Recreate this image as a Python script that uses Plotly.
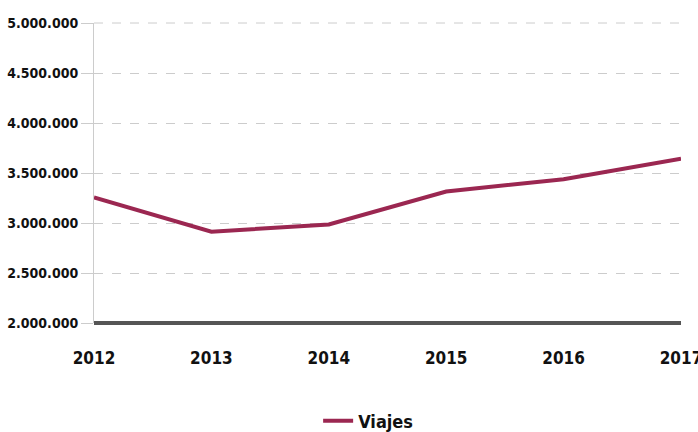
import plotly.graph_objects as go

years = [2012, 2013, 2014, 2015, 2016, 2017]
viajes = [3255000, 2913000, 2985000, 3315000, 3438000, 3643000]
y_ticks = [2000000, 2500000, 3000000, 3500000, 4000000, 4500000, 5000000]

FONT = "DejaVu Sans Condensed"

fig = go.Figure()
fig.add_trace(go.Scatter(
    x=years, y=viajes, mode="lines", name="Viajes",
    line=dict(color="#9B2751", width=4),
))

fig.update_layout(
    width=698, height=432,
    margin=dict(l=94, r=17, t=23, b=109, autoexpand=False),
    paper_bgcolor="white", plot_bgcolor="white",
    separators=",.",
    font=dict(family=FONT, color="#111111", weight="bold"),
    showlegend=True,
    legend=dict(orientation="h", x=0.467, xanchor="center", y=-0.265, yanchor="top",
                font=dict(size=18, family=FONT, weight="bold")),
    xaxis=dict(
        range=[2012, 2017], tickvals=years, ticktext=[str(y) for y in years],
        showgrid=False, zeroline=False, automargin=False,
        ticklabeloverflow="allow",
        showline=False,
        ticks="outside", ticklen=20, tickcolor="rgba(0,0,0,0)",
        tickfont=dict(size=17, family=FONT, weight="bold"),
    ),
    yaxis=dict(
        range=[2000000, 5000000], tickvals=y_ticks, tickformat=",d",
        showgrid=True, gridcolor="#cccccc", griddash="dash", gridwidth=1,
        zeroline=False, showline=True, linecolor="#cccccc", linewidth=1,
        automargin=False,
        ticks="outside", ticklen=12, tickcolor="#cccccc",
        tickfont=dict(size=14, family=FONT, weight="bold"),
    ),
)

# dashed gridline along the top edge of the plot area
fig.add_shape(type="line", xref="paper", x0=0, x1=1, yref="paper",
              y0=1, y1=1, line=dict(color="#cccccc", width=1, dash="dash"),
              layer="below")
# dark baseline along the bottom of the plot area
fig.add_shape(type="line", xref="paper", x0=0, x1=1, yref="paper",
              y0=0, y1=0, line=dict(color="#555555", width=4), layer="above")

fig.write_html("out.html", config={"displayModeBar": False},
               post_script="document.body.style.margin='0';")
